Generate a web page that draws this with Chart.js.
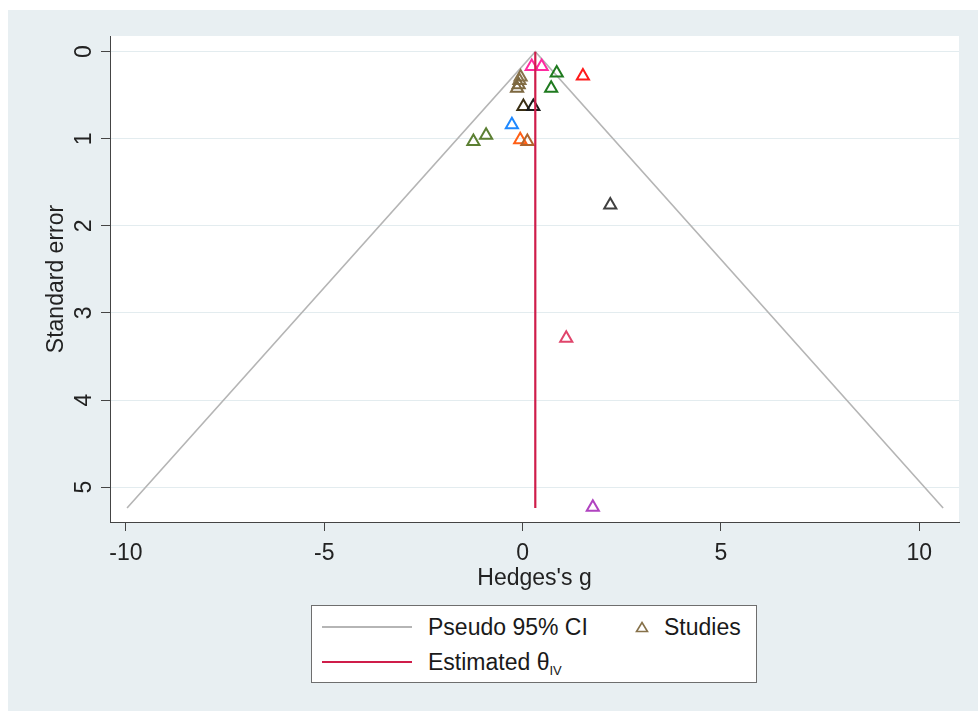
<!DOCTYPE html>
<html><head><meta charset="utf-8">
<script src="https://cdn.jsdelivr.net/npm/chart.js@4.4.0/dist/chart.umd.min.js"></script>
<style>
html,body{margin:0;padding:0;background:#fff;width:978px;height:711px;overflow:hidden;font-family:"Liberation Sans",Arial,sans-serif;}
#panel{position:absolute;left:8px;top:10px;width:970px;height:701px;background:#e8eff2;}
#c{position:absolute;left:0;top:0;}
#legend{position:absolute;left:311px;top:605px;width:446px;height:78px;background:#fff;border:1px solid #6e6e6e;box-sizing:border-box;color:#1a1a1a;}
#legend .ln{position:absolute;left:10px;width:90px;}
#legend .tx{position:absolute;font-size:23px;line-height:27px;white-space:nowrap;}
#legend sub{font-size:13px;vertical-align:baseline;position:relative;top:5px;}
</style>
</head><body>
<div id="panel"></div>
<canvas id="c" width="978" height="711"></canvas>
<div id="legend">
  <div class="ln" style="top:20px;border-top:2px solid #b5b5b5;"></div>
  <div class="tx" style="left:116px;top:8px;">Pseudo 95% CI</div>
  <svg style="position:absolute;left:323px;top:15px;" width="14" height="12"><polygon points="7,1.5 12.5,10.5 1.5,10.5" fill="none" stroke="#86714a" stroke-width="1.6"/></svg>
  <div class="tx" style="left:352px;top:8px;">Studies</div>
  <div class="ln" style="top:55px;border-top:2.5px solid #cf1d4a;"></div>
  <div class="tx" style="left:116px;top:43px;">Estimated θ<sub>IV</sub></div>
</div>
<script>
const xTicks = [-10, -5, 0, 5, 10];
const yTicks = [0, 1, 2, 3, 4, 5];

const studyG  = [0.23, 0.48, 0.86, 0.72, 1.52, -0.05, -0.08, -0.10, -0.14, 0.02, 0.27, -0.27, -1.24, -0.92, -0.06, 0.12, 2.21, 1.10, 1.77];
const studySE = [0.17, 0.17, 0.245, 0.42, 0.28, 0.29, 0.33, 0.38, 0.42, 0.63, 0.63, 0.84, 1.03, 0.96, 1.01, 1.03, 1.76, 3.29, 5.23];
const studyColors = ['#ff2aa0','#ff2aa0','#1f7a1f','#1f7a1f','#ff1a1a','#86714a','#86714a','#7d6840','#7d6840','#3b2f14','#1a1a1a','#1e88ff','#5b7f32','#5b7f32','#ff5f15','#b0642c','#404040','#e0456b','#b043c0'];

const ciG  = [-9.97, 0.32, 10.6];
const ciSE = [5.24, 0, 5.24];

const thetaG  = [0.32, 0.32];
const thetaSE = [0, 5.24];

const FONT = '"Liberation Sans", Arial, sans-serif';

const plotBg = {
  id: 'plotBg',
  beforeDraw(c) {
    const {ctx, chartArea: a} = c;
    ctx.save();
    ctx.fillStyle = '#ffffff';
    ctx.fillRect(a.left, a.top, a.right - a.left, a.bottom - a.top);
    ctx.restore();
  }
};

new Chart(document.getElementById('c'), {
  type: 'scatter',
  data: {
    datasets: [
      {
        label: 'Estimated θIV',
        data: thetaG.map((g, i) => ({x: g, y: thetaSE[i]})),
        showLine: true, borderColor: '#cf1d4a', borderWidth: 2.2, pointRadius: 0, fill: false
      },
      {
        label: 'Studies',
        data: studyG.map((g, i) => ({x: g, y: studySE[i]})),
        pointStyle: 'triangle', pointRadius: 7, pointBorderWidth: 2,
        pointBorderColor: studyColors, pointBackgroundColor: 'rgba(0,0,0,0)'
      },
      {
        label: 'Pseudo 95% CI',
        data: ciG.map((g, i) => ({x: g, y: ciSE[i]})),
        showLine: true, borderColor: '#b5b5b5', borderWidth: 1.6, pointRadius: 0, fill: false
      }
    ]
  },
  options: {
    responsive: false, animation: false,
    layout: {padding: {left: 0, top: 36, right: 19, bottom: 119}},
    plugins: {legend: {display: false}, tooltip: {enabled: false}},
    scales: {
      x: {
        type: 'linear', position: 'bottom', min: -10.4, max: 11.0,
        afterBuildTicks: s => { s.ticks = xTicks.map(v => ({value: v})); },
        afterFit: s => { s.height = 70; },
        grid: {drawOnChartArea: false, drawTicks: true, tickLength: 9, tickColor: '#444', tickWidth: 1},
        border: {color: '#444', width: 1},
        ticks: {font: {family: FONT, size: 23}, color: '#222', padding: 9, minRotation: 0, maxRotation: 0},
        title: {display: true, text: "Hedges's g", font: {family: FONT, size: 23}, color: '#222', padding: {top: 0, bottom: 0}}
      },
      y: {
        type: 'linear', position: 'left', reverse: true, min: -0.18, max: 5.4,
        afterBuildTicks: s => { s.ticks = yTicks.map(v => ({value: v})); },
        afterFit: s => { s.width = 110; },
        grid: {drawOnChartArea: true, color: '#e3ecef', lineWidth: 1, drawTicks: true, tickLength: 9, tickColor: '#444', tickWidth: 1},
        border: {color: '#444', width: 1},
        ticks: {font: {family: FONT, size: 23}, color: '#222', padding: 10, crossAlign: 'center', minRotation: 90, maxRotation: 90},
        title: {display: true, text: 'Standard error', font: {family: FONT, size: 23}, color: '#222', padding: {top: 43, bottom: 0}}
      }
    }
  },
  plugins: [plotBg]
});
</script>
</body></html>
